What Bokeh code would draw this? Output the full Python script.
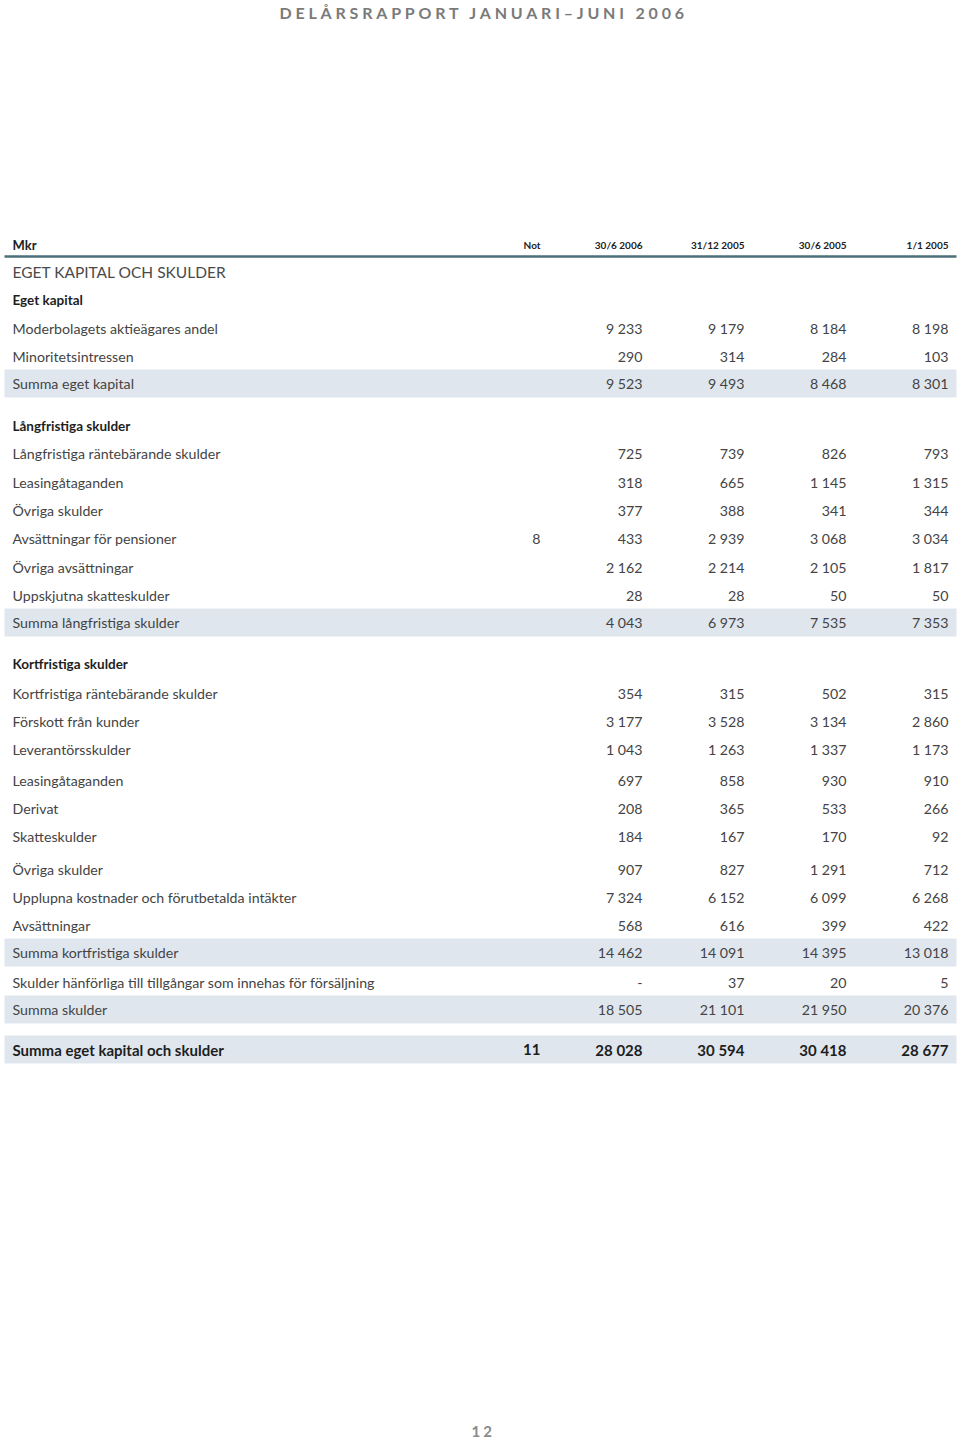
from bokeh.plotting import figure
from bokeh.models import ColumnDataSource, InlineStyleSheet
from bokeh.layouts import column
from bokeh.core.properties import value
from bokeh.embed import file_html
from bokeh.resources import INLINE

# ---------------- data ----------------
title_text = "DELÅRSRAPPORT JANUARI–JUNI 2006"
page_number = "12"
unit_label = "Mkr"
col_headers = ["Not", "30/6 2006", "31/12 2005", "30/6 2005", "1/1 2005"]

row_labels = [
    "EGET KAPITAL OCH SKULDER",
    "Eget kapital",
    "Moderbolagets aktieägares andel",
    "Minoritetsintressen",
    "Summa eget kapital",
    "Långfristiga skulder",
    "Långfristiga räntebärande skulder",
    "Leasingåtaganden",
    "Övriga skulder",
    "Avsättningar för pensioner",
    "Övriga avsättningar",
    "Uppskjutna skatteskulder",
    "Summa långfristiga skulder",
    "Kortfristiga skulder",
    "Kortfristiga räntebärande skulder",
    "Förskott från kunder",
    "Leverantörsskulder",
    "Leasingåtaganden",
    "Derivat",
    "Skatteskulder",
    "Övriga skulder",
    "Upplupna kostnader och förutbetalda intäkter",
    "Avsättningar",
    "Summa kortfristiga skulder",
    "Skulder hänförliga till tillgångar som innehas för försäljning",
    "Summa skulder",
    "Summa eget kapital och skulder",
]
# row kind: caps / section / item / sum / total
row_kind = ["caps", "section", "item", "item", "sum",
            "section", "item", "item", "item", "item", "item", "item", "sum",
            "section", "item", "item", "item", "item", "item", "item", "item", "item", "item", "sum",
            "item", "sum", "total"]
not_col = ["", "", "", "", "", "", "", "", "", "8", "", "", "",
           "", "", "", "", "", "", "", "", "", "", "", "", "", "11"]
v_30_6_2006 = ["", "", "9 233", "290", "9 523", "", "725", "318", "377", "433", "2 162", "28", "4 043",
               "", "354", "3 177", "1 043", "697", "208", "184", "907", "7 324", "568", "14 462",
               "-", "18 505", "28 028"]
v_31_12_2005 = ["", "", "9 179", "314", "9 493", "", "739", "665", "388", "2 939", "2 214", "28", "6 973",
                "", "315", "3 528", "1 263", "858", "365", "167", "827", "6 152", "616", "14 091",
                "37", "21 101", "30 594"]
v_30_6_2005 = ["", "", "8 184", "284", "8 468", "", "826", "1 145", "341", "3 068", "2 105", "50", "7 535",
               "", "502", "3 134", "1 337", "930", "533", "170", "1 291", "6 099", "399", "14 395",
               "20", "21 950", "30 418"]
v_1_1_2005 = ["", "", "8 198", "103", "8 301", "", "793", "1 315", "344", "3 034", "1 817", "50", "7 353",
              "", "315", "2 860", "1 173", "910", "266", "92", "712", "6 268", "422", "13 018",
              "5", "20 376", "28 677"]

# ---------------- layout (page pixel coordinates) ----------------
row_y = [271, 299, 328, 356, 383, 425, 453, 482, 510, 538, 567, 595, 622,
         663, 693, 721, 749, 780, 808, 836, 869, 897, 925, 952, 982, 1009, 1049]
col_x_right = [540, 642, 744, 846, 948]
label_x = 12
header_y = 244
PAGE_W = 960
TOP_H = 28
FOOT_H = 28
PAGE_H = 1439
MAIN_H = PAGE_H - TOP_H - FOOT_H

FONT = "Lato"
TXT = "#444444"
BAND = "#dfe6ee"


def blank_fig(h, y0, y1):
    f = figure(width=PAGE_W, height=h, x_range=(0, PAGE_W), y_range=(y1, y0),
               output_backend="svg", toolbar_location=None, min_border=0)
    f.axis.visible = False
    f.grid.visible = False
    f.outline_line_color = None
    f.background_fill_color = "white"
    return f


# title strip (letter-spaced)
t = blank_fig(TOP_H, 0, TOP_H)
t.stylesheets = [InlineStyleSheet(css=":host { letter-spacing: 3.8px; }")]
t.text(x=[279], y=[12], text=[title_text], text_font=value(FONT), text_font_style="bold",
       text_font_size="16px", text_color="#7a7a7a", text_align="left", text_baseline="middle")

# footer strip
ft = blank_fig(FOOT_H, PAGE_H - FOOT_H, PAGE_H)
ft.stylesheets = [InlineStyleSheet(css=":host { letter-spacing: 3px; }")]
ft.text(x=[471], y=[1431], text=[page_number], text_font=value(FONT), text_font_style="bold",
        text_font_size="15px", text_color="#8a8a8a", text_align="left", text_baseline="middle")

# main table
p = blank_fig(MAIN_H, TOP_H, PAGE_H - FOOT_H)

band_idx = [i for i, k in enumerate(row_kind) if k in ("sum", "total")]
band_src = ColumnDataSource(dict(y=[row_y[i] for i in band_idx]))
p.rect(x=480, y="y", width=952, height=28, source=band_src,
       fill_color=BAND, line_color=None)

p.segment(x0=[4], y0=[256], x1=[956], y1=[256], line_color="#4d6f7b", line_width=2.5)

p.text(x=[label_x], y=[header_y], text=[unit_label], text_font=value(FONT), text_font_style="bold",
       text_font_size="13px", text_color="#222222", text_align="left", text_baseline="middle")
p.text(x=col_x_right, y=[header_y] * len(col_headers), text=col_headers, text_font=value(FONT),
       text_font_style="bold", text_font_size="10px", text_color="#222222",
       text_align="right", text_baseline="middle")

styles = {
    "caps": dict(size="15.5px", style="normal", color="#4a4a4a"),
    "section": dict(size="13.5px", style="bold", color="#1e1e1e"),
    "item": dict(size="14.2px", style="normal", color=TXT),
    "sum": dict(size="14.2px", style="normal", color=TXT),
    "total": dict(size="15px", style="bold", color="#1e1e1e"),
}
for kind, st in styles.items():
    idx = [i for i, k in enumerate(row_kind) if k == kind]
    if not idx:
        continue
    src = ColumnDataSource(dict(x=[label_x] * len(idx), y=[row_y[i] for i in idx],
                                t=[row_labels[i] for i in idx]))
    p.text(x="x", y="y", text="t", source=src, text_font=value(FONT), text_font_style=st["style"],
           text_font_size=st["size"], text_color=st["color"], text_align="left", text_baseline="middle")

columns = [not_col, v_30_6_2006, v_31_12_2005, v_30_6_2005, v_1_1_2005]
for cx, col in zip(col_x_right, columns):
    for bold in (False, True):
        idx = [i for i, v in enumerate(col) if v != "" and ((row_kind[i] == "total") == bold)]
        if not idx:
            continue
        src = ColumnDataSource(dict(x=[cx] * len(idx), y=[row_y[i] for i in idx],
                                    t=[col[i] for i in idx]))
        p.text(x="x", y="y", text="t", source=src, text_font=value(FONT),
               text_font_style="bold" if bold else "normal",
               text_font_size="15px" if bold else "14.2px",
               text_color="#1e1e1e" if bold else TXT,
               text_align="right", text_baseline="middle")

layout = column(t, p, ft, spacing=0)
open("out.html", "w").write(file_html(layout, INLINE))
